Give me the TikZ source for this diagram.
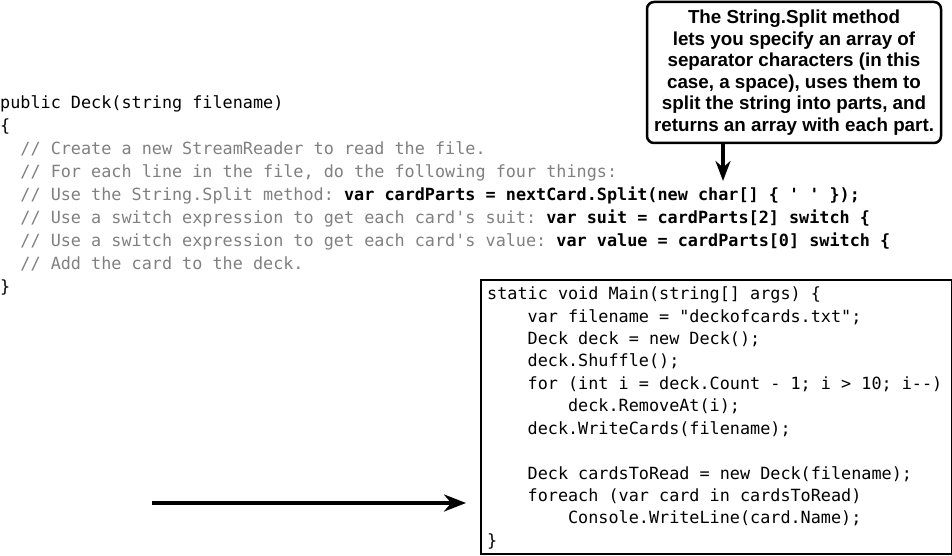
\documentclass[tikz,border=0pt]{standalone}
\usepackage{fontspec}
\usepackage{xcolor}
\usetikzlibrary{arrows.meta}
\newfontfamily\codefont[Ligatures=TeXOff]{DejaVu Sans Mono}
\newfontfamily\notefont{Liberation Sans}
\definecolor{cmt}{RGB}{128,128,128}
\newcommand\pad[1]{\hspace*{#1\dimexpr0.602em\relax}}
\frenchspacing
\begin{document}
\begin{tikzpicture}[x=1pt,y=-1pt,
  code/.style={inner sep=0pt,align=left,anchor=north west,
    font=\codefont\fontsize{16.8pt}{#1}\selectfont},
  note/.style={draw,line width=2.5pt,rounded corners=7pt,align=center,
    minimum width=294pt,minimum height=141pt,
    font=\notefont\bfseries\fontsize{18.8pt}{21.5pt}\selectfont},
  codebox/.style={draw,line width=2pt,anchor=north west,
    minimum width=470.7pt,minimum height=274.2pt},
  pointer/.style 2 args={line width=4pt,-{Stealth[length=#1,width=#2]}}]
\useasboundingbox (0,0) rectangle (952,556);
\node[code=23pt] (deck) at (0,95.5) {public Deck(string filename)\\
\{\\
\pad{2}\textcolor{cmt}{// Create a new StreamReader to read the file.}\\
\pad{2}\textcolor{cmt}{// For each line in the file, do the following four things:}\\
\pad{2}\textcolor{cmt}{// Use the String.Split method:} \textbf{var cardParts = nextCard.Split(new char[] \{ ' ' \});}\\
\pad{2}\textcolor{cmt}{// Use a switch expression to get each card's suit:} \textbf{var suit = cardParts[2] switch \{}\\
\pad{2}\textcolor{cmt}{// Use a switch expression to get each card's value:} \textbf{var value = cardParts[0] switch \{}\\
\pad{2}\textcolor{cmt}{// Add the card to the deck.}\\
\}};
\node[note] (split) at (794,72.5) {The String.Split method\\
lets you specify an array of\\
separator characters (in this\\
case, a space), uses them to\\
split the string into parts, and\\
returns an array with each part.};
\node[codebox] (main) at (480,278.5) {};
\node[code=22.43pt] (mainsrc) at (487,286.7) {static void Main(string[] args) \{\\
\pad{4}var filename = "deckofcards.txt";\\
\pad{4}Deck deck = new Deck();\\
\pad{4}deck.Shuffle();\\
\pad{4}for (int i = deck.Count - 1; i > 10; i--)\\
\pad{8}deck.RemoveAt(i);\\
\pad{4}deck.WriteCards(filename);\\
\mbox{}\\
\pad{4}Deck cardsToRead = new Deck(filename);\\
\pad{4}foreach (var card in cardsToRead)\\
\pad{8}Console.WriteLine(card.Name);\\
\}};
\coordinate (tip) at (723,181);
\coordinate (from) at (152,503);
\draw[pointer={20pt}{15pt}] (split.south -| tip) -- (tip);
\draw[pointer={22pt}{17pt},shorten >=14pt] (from) -- (from -| main.west);
\end{tikzpicture}
\end{document}
